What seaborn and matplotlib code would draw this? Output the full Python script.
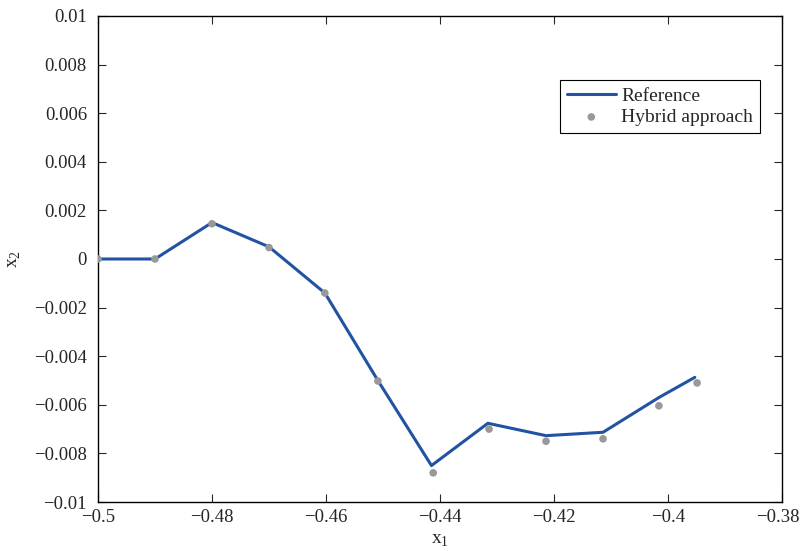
import matplotlib
matplotlib.use("Agg")
import matplotlib.pyplot as plt
import matplotlib.transforms as mtrans
from matplotlib.ticker import FuncFormatter
import seaborn as sns
import pandas as pd

# reference trajectory
ref_x1 = [-0.5, -0.49, -0.48, -0.47, -0.4602, -0.4509, -0.4415, -0.4316, -0.4214, -0.4114, -0.4016, -0.3953]
ref_x2 = [0.0, 0.0, 0.0015, 0.0005, -0.0014, -0.0050, -0.0085, -0.00676, -0.00727, -0.00713, -0.0057, -0.00487]

# hybrid approach samples
hyb_x1 = [-0.5, -0.49, -0.48, -0.47, -0.4602, -0.4509, -0.4412, -0.4314, -0.4214, -0.4114, -0.4016, -0.3949]
hyb_x2 = [0.0, 0.0, 0.00145, 0.00047, -0.0014, -0.00502, -0.0088, -0.0070, -0.0075, -0.0074, -0.00604, -0.0051]

xticks = [-0.5, -0.48, -0.46, -0.44, -0.42, -0.4, -0.38]
yticks = [-0.01, -0.008, -0.006, -0.004, -0.002, 0, 0.002, 0.004, 0.006, 0.008, 0.01]

sns.set_style("ticks")
plt.rcParams["font.family"] = ["Liberation Serif", "DejaVu Serif"]
plt.rcParams["mathtext.fontset"] = "custom"
plt.rcParams["mathtext.rm"] = "Liberation Serif"
plt.rcParams["axes.unicode_minus"] = True

ref = pd.DataFrame({"x1": ref_x1, "x2": ref_x2})
hyb = pd.DataFrame({"x1": hyb_x1, "x2": hyb_x2})

fig = plt.figure(figsize=(8.02, 5.51), dpi=100)
ax = fig.add_axes([0.1222, 0.0889, 0.8529, 0.8821])

sns.lineplot(data=ref, x="x1", y="x2", ax=ax, color="#2152a3", linewidth=2.2,
             sort=False, estimator=None, label="Reference")
sns.scatterplot(data=hyb, x="x1", y="x2", ax=ax, color="#999999", s=30,
                edgecolor="none", label="Hybrid approach", zorder=3)

ax.set_xlim(-0.5, -0.38)
ax.set_ylim(-0.01, 0.01)
ax.set_xticks(xticks)
ax.set_yticks(yticks)
fmt = FuncFormatter(lambda v, p: ("%g" % round(v, 4)).replace("-", "\u2212"))
ax.xaxis.set_major_formatter(fmt)
ax.yaxis.set_major_formatter(fmt)
ax.tick_params(direction="in", top=True, right=True, labelsize=13.5, length=6, width=0.8)
ax.tick_params(axis="y", pad=8)
ax.tick_params(axis="x", pad=5)
for s in ax.spines.values():
    s.set_linewidth(1.0)
    s.set_color("black")

# keep the last x label inside the figure
fig.canvas.draw()
last = ax.get_xticklabels()[-1]
last.set_transform(last.get_transform() + mtrans.ScaledTranslation(-4 / 100, 0, fig.dpi_scale_trans))

ax.set_xlabel(r"x$_\mathregular{1}$", fontsize=14, labelpad=4)
ax.set_ylabel(r"x$_\mathregular{2}$", fontsize=14, labelpad=8)

leg = ax.legend(loc="upper right", bbox_to_anchor=(0.968, 0.868), borderaxespad=0,
                fancybox=False, edgecolor="black", framealpha=1, fontsize=14,
                handlelength=2.5, borderpad=0.35, labelspacing=0.2, handletextpad=0.3)
leg.get_frame().set_linewidth(0.8)

fig.savefig("out.png", dpi=100)
